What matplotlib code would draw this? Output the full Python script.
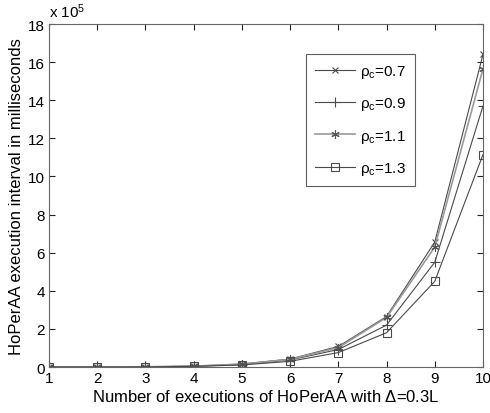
import matplotlib
matplotlib.use("Agg")
import matplotlib.pyplot as plt
import numpy as np

x = [1, 2, 3, 4, 5, 6, 7, 8, 9, 10]
rho_07 = [0.001, 0.004, 0.015, 0.05, 0.16, 0.42, 1.08, 2.65, 6.56, 16.4]
rho_09 = [0.001, 0.003, 0.012, 0.04, 0.13, 0.37, 0.92, 2.2, 5.5, 13.7]
rho_11 = [0.001, 0.004, 0.014, 0.05, 0.15, 0.40, 1.02, 2.6, 6.3, 15.65]
rho_13 = [0.001, 0.003, 0.010, 0.035, 0.11, 0.30, 0.76, 1.8, 4.5, 11.15]
labels = [r'$\rho_c$=0.7', r'$\rho_c$=0.9', r'$\rho_c$=1.1', r'$\rho_c$=1.3']

plt.rcParams['font.family'] = ['Liberation Sans', 'DejaVu Sans']
plt.rcParams['mathtext.fontset'] = 'custom'
plt.rcParams['mathtext.rm'] = 'Liberation Sans'
plt.rcParams['mathtext.it'] = 'Liberation Sans'

fig = plt.figure(figsize=(4.9, 4.14), dpi=100)
ax = fig.add_axes([0.1, 0.111, 0.8857, 0.8286])

dark = '#4a4a4a'
light = '#9a9a9a'
ax.plot(x, rho_07, color=dark, lw=0.8, marker='x', ms=5, mew=0.8, label=labels[0])
ax.plot(x, rho_09, color=dark, lw=0.8, marker='+', ms=7, mew=0.8, label=labels[1])
ax.plot(x, rho_11, color=light, lw=1.2, marker=(6, 2, 0), ms=6, mew=0.8, mec='#555555', label=labels[2])
ax.plot(x, rho_13, color=dark, lw=0.8, marker='s', ms=5.5, mew=0.8, mfc='none', label=labels[3])

ax.set_xlim(1, 10)
ax.set_ylim(0, 18)
ax.set_xticks(range(1, 11))
ax.set_yticks(range(0, 19, 2))
ax.tick_params(direction='in', top=True, right=True, labelsize=11, length=4, width=0.8, pad=3,
               color='#222222')
for s in ax.spines.values():
    s.set_linewidth(0.8)
    s.set_color('#666666')

ax.set_xlabel(r'Number of executions of HoPerAA with $\Delta$=0.3L', fontsize=12, labelpad=2)
ax.set_ylabel('HoPerAA execution interval in milliseconds', fontsize=12, labelpad=3)
ax.text(0.0, 1.012, r'x 10$^5$', transform=ax.transAxes, fontsize=11, ha='left', va='bottom')

leg = ax.legend(loc='upper left', bbox_to_anchor=(0.575, 0.935), fontsize=11, frameon=True,
                fancybox=False, edgecolor='#333333', handlelength=2.6, borderpad=0.6,
                labelspacing=1.0, handletextpad=0.3)
leg.get_frame().set_linewidth(0.8)

fig.savefig('out.png', dpi=100, facecolor='white')
